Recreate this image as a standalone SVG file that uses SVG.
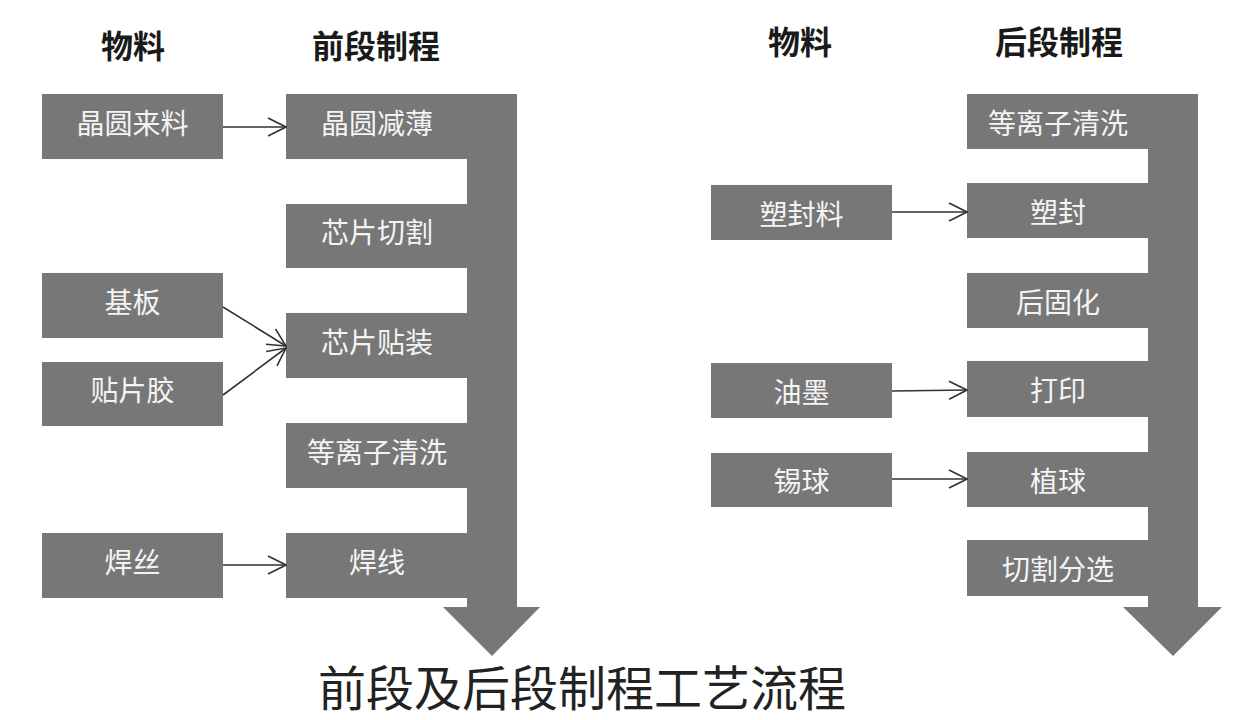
<svg xmlns="http://www.w3.org/2000/svg" width="1252" height="720" viewBox="0 0 1252 720">
  <defs>
    <style>
      .box { fill: #777777; }
      .flow { fill: #777777; }
      .lbl { font-family: "Noto Sans CJK SC", "Noto Sans", sans-serif; font-size: 28px; fill: #f4f4f4; text-anchor: middle; dominant-baseline: central; }
      .hdr { font-family: "Noto Sans CJK SC", "Noto Sans", sans-serif; font-size: 32px; font-weight: bold; fill: #1a1a1a; text-anchor: middle; dominant-baseline: central; }
      .title { font-family: "Noto Sans CJK SC", "Noto Sans", sans-serif; font-size: 48px; fill: #222222; text-anchor: middle; dominant-baseline: central; }
      .conn { stroke: #333333; stroke-width: 1.6; fill: none; marker-end: url(#chev); }
    </style>
    <marker id="chev" markerUnits="userSpaceOnUse" viewBox="0 0 20 20" refX="19" refY="10" markerWidth="20" markerHeight="20" orient="auto">
      <path d="M1,1 L19,10 L1,19" fill="none" stroke="#333333" stroke-width="1.6"/>
    </marker>
  </defs>
  <rect width="1252" height="720" fill="#ffffff"/>

  <!-- headers -->
  <g id="headers">
    <text class="hdr" x="133" y="44">物料</text>
    <text class="hdr" x="376" y="44">前段制程</text>
    <text class="hdr" x="800" y="40">物料</text>
    <text class="hdr" x="1059" y="40">后段制程</text>
  </g>

  <!-- flow trunks -->
  <g id="front-flow-arrow">
    <polygon class="flow" points="467,94 517,94 517,607 540,607 492,656 443,607 467,607"/>
  </g>
  <g id="back-flow-arrow">
    <polygon class="flow" points="1148,94 1198,94 1198,607 1222,607 1173,656 1123,607 1148,607"/>
  </g>

  <!-- front-end process nodes -->
  <g id="p-wafer-thin"><rect class="box" x="286" y="94" width="182" height="65"/><text class="lbl" x="377" y="121.5">晶圆减薄</text></g>
  <g id="p-die-saw"><rect class="box" x="286" y="204" width="182" height="64"/><text class="lbl" x="377" y="231">芯片切割</text></g>
  <g id="p-die-attach"><rect class="box" x="286" y="313" width="182" height="65"/><text class="lbl" x="377" y="340.5">芯片贴装</text></g>
  <g id="p-plasma1"><rect class="box" x="286" y="423" width="182" height="65"/><text class="lbl" x="377" y="450.5">等离子清洗</text></g>
  <g id="p-wire-bond"><rect class="box" x="286" y="533" width="182" height="65"/><text class="lbl" x="377" y="560.5">焊线</text></g>

  <!-- front-end material nodes -->
  <g id="m-wafer"><rect class="box" x="42" y="94" width="181" height="65"/><text class="lbl" x="132.5" y="121.5">晶圆来料</text></g>
  <g id="m-substrate"><rect class="box" x="42" y="273" width="181" height="65"/><text class="lbl" x="132.5" y="300.5">基板</text></g>
  <g id="m-die-glue"><rect class="box" x="42" y="362" width="181" height="64"/><text class="lbl" x="132.5" y="389">贴片胶</text></g>
  <g id="m-wire"><rect class="box" x="42" y="533" width="181" height="65"/><text class="lbl" x="132.5" y="560.5">焊丝</text></g>

  <!-- back-end process nodes -->
  <g id="p-plasma2"><rect class="box" x="967" y="94" width="182" height="55"/><text class="lbl" x="1058" y="121.5">等离子清洗</text></g>
  <g id="p-mold"><rect class="box" x="967" y="183" width="182" height="55"/><text class="lbl" x="1058" y="210.5">塑封</text></g>
  <g id="p-cure"><rect class="box" x="967" y="273" width="182" height="55"/><text class="lbl" x="1058" y="300.5">后固化</text></g>
  <g id="p-mark"><rect class="box" x="967" y="361" width="182" height="56"/><text class="lbl" x="1058" y="389">打印</text></g>
  <g id="p-ball"><rect class="box" x="967" y="452" width="182" height="55"/><text class="lbl" x="1058" y="479.5">植球</text></g>
  <g id="p-singulate"><rect class="box" x="967" y="540" width="182" height="56"/><text class="lbl" x="1058" y="568">切割分选</text></g>

  <!-- back-end material nodes -->
  <g id="m-mold-compound"><rect class="box" x="711" y="185" width="181" height="55"/><text class="lbl" x="801.5" y="212.5">塑封料</text></g>
  <g id="m-ink"><rect class="box" x="711" y="363" width="181" height="55"/><text class="lbl" x="801.5" y="390.5">油墨</text></g>
  <g id="m-solder-ball"><rect class="box" x="711" y="453" width="181" height="54"/><text class="lbl" x="801.5" y="480">锡球</text></g>

  <!-- connectors -->
  <g id="connectors">
    <line class="conn" x1="223" y1="127" x2="286" y2="127"/>
    <line class="conn" x1="223" y1="307" x2="286" y2="346"/>
    <line class="conn" x1="223" y1="395" x2="286" y2="348"/>
    <line class="conn" x1="223" y1="565" x2="286" y2="565"/>
    <line class="conn" x1="892" y1="212" x2="967" y2="212"/>
    <line class="conn" x1="892" y1="391" x2="967" y2="390"/>
    <line class="conn" x1="892" y1="479" x2="967" y2="479"/>
  </g>

  <!-- caption -->
  <g id="caption">
    <text class="title" x="582" y="685">前段及后段制程工艺流程</text>
  </g>
</svg>
